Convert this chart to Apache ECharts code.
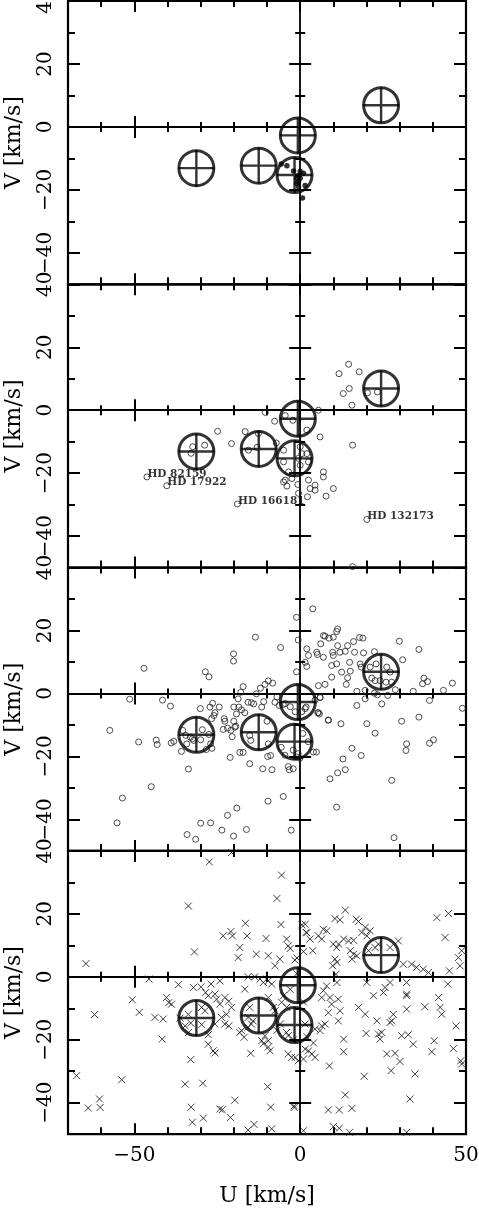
<!DOCTYPE html>
<html>
<head>
<meta charset="utf-8">
<script src="https://cdn.jsdelivr.net/npm/echarts@6/dist/echarts.min.js"></script>
<style>
  html, body { margin: 0; padding: 0; background: #fff; }
  #chart { width: 479px; height: 1213px; }
</style>
</head>
<body>
<div id="chart"></div>
<script>
// axis ranges and tick values
const uRange = [-70, 50];
const vRange = [-50, 40];
const uMajor = [-50, 0, 50];
const vMajor = [-40, -20, 0, 20, 40];

// moving group centres (U, V)
const groupCentres = [[-31.3, -13.1], [-12.5, -12.3], [-0.7, -2.7], [-1.7, -15.3], [24.4, 6.9]];

// panel 1: filled dots
const panel1Stars = [[-5.7, -11.8], [-4, -12.3], [-2, -14], [0, -14.2], [1, -14.7], [-0.7, -15.5], [-1, -16.3],
  [0, -16.3], [-0.5, -17.4], [-1, -17.9], [1.5, -18.6], [-0.5, -19], [0.7, -22.6]];

// panel 2: open circles
const panel2Stars = [[11.7, 11.6], [14.6, 14.6], [17.8, 12.2], [14.8, 6.9], [13, 5.3], [15.6, 1.6], [20.3, 5.5],
  [23.3, 5.8], [15.8, -11.1], [5.5, 0], [6, -8.5], [2, -6.3], [-24.9, -6.7], [-20.7, -10.6], [-16.6, -6.8],
  [-15.6, -12.7], [-12.6, -7.4], [-13, -11.8], [-7.2, -10.4], [-7.7, -3.5], [-10.5, -0.7], [-4.5, -1.7],
  [-2.2, -3.2], [-28.8, -11.1], [-32.4, -11.6], [-32.9, -13.7], [-5, -12.7], [0, -11.6], [0.5, -13.8],
  [-0.5, -15.3], [2, -13.8], [2.5, -16.4], [0, -17.5], [-5, -16.4], [-3.5, -19.6], [-4.5, -22.2], [-5, -22.8],
  [-2.5, -21.7], [-4, -24.1], [2.5, -22.2], [3, -24.9], [4.5, -23.8], [4.5, -25.4], [7, -19.6], [7, -21.2],
  [10, -24.9], [7.8, -27.3], [2.2, -27.5], [-0.5, -26.4], [-0.7, -23.6], [15.8, -49.7]];
const namedStars = [[-46.2, -21.2], [-40.2, -24], [-18.9, -29.8], [20.1, -34.7]];
const namedLabels = ["HD 82159", "HD 17922", "HD 166181", "HD 132173"];

// panel 3: open circles
const panel3Stars = [[-1.1, 24.2], [-0.6, 17], [-13.5, 17.9], [-5.9, 14.6], [-20.1, 12.6], [-20.1, 10.3], [-47.1, 8],
  [-28.6, 6.9], [-27.5, 5.3], [-1.1, 6.9], [-51.4, -1.8], [-41.5, -2.1], [-39.1, -4], [-57.4, -11.7], [-48.7, -15.4],
  [-43.4, -14.8], [-43.1, -16.2], [-38.9, -15.7], [-38.1, -15.2], [-35.8, -18.4], [-33.7, -24], [-44.9, -29.6],
  [-53.6, -33.2], [-55.2, -41.1], [-34.1, -44.8], [-31.5, -46.3], [-30, -41.2], [-27, -41.1], [-23.6, -43.4],
  [-20.1, -45.3], [-21.9, -38.7], [-19.1, -36.4], [-16.2, -43.2], [-9.7, -34.2], [-5.1, -32.7], [-2.7, -43.4],
  [-30.1, -4.8], [-26.4, -3.1], [-27.2, -4.3], [-25.7, -6.1], [-26, -7], [-24.4, -4.3], [-26.7, -8], [-22.9, -8],
  [-22.7, -8.8], [-23.2, -11.4], [-21.9, -11], [-20.9, -11.7], [-20.5, -13.7], [-19.7, -10.7], [-21.1, -20.3],
  [-35.4, -11.7], [-34.5, -13.3], [-34.2, -16], [-33.1, -13.9], [-32.5, -14.4], [-32.1, -14.9], [-30, -14.7],
  [-29.5, -11.5], [-27.5, -13], [-27, -16], [-26.6, -17.4], [-28.3, -17.8], [-17.2, 2.2], [-17.9, 0.4],
  [-18.7, -1.7], [-20, -4.3], [-18.5, -4.3], [-17.7, -5.2], [-16.7, -6.1], [-19.2, -6.5], [-15.7, -2.8],
  [-14.7, -2.9], [-14, -3.3], [-13.2, -0.1], [-12, 1.7], [-10.6, 2.9], [-9.6, 4], [-8.3, 3.3], [-11, -2.6],
  [-11.6, -4.3], [-20, -8.8], [-19.4, -10.4], [-18.2, -18.7], [-17.2, -18.7], [-15.2, -22.3], [-11.3, -23.9],
  [-9.8, -20], [-8.9, -19.7], [-8.5, -24.2], [-3.6, -23.2], [-3.3, -24.2], [-2.1, -23.9], [-7.6, -2.8],
  [-6.3, -3.8], [-5.1, -3.5], [-15.2, -13.3], [-14.9, -14.9], [-10, -8.8], [-9.6, -16], [-7, -1.1], [-4.5, -3.2],
  [-3, -4.2], [-1.5, -5.8], [0.5, -5.8], [1.5, -4.8], [4.5, -2.1], [5.5, -6.1], [5.8, -6.5], [6, -1.3],
  [8.5, -8.5], [4, -18.6], [4.9, -18.6], [-5.7, -17.1], [-4.6, -19.6], [-2.1, -18], [-0.6, -19.1], [-1.1, -20.1],
  [-0.1, -20.6], [0.8, -12.7], [2.4, -15.3], [3.8, 26.9], [11.3, 20.5], [11, 19.7], [7, 18.4], [7.5, 18.2],
  [8.7, 17.6], [10, 17.9], [17.9, 17.8], [18.9, 17.6], [16.1, 16.5], [14.3, 15.2], [11.3, 15.2], [6.2, 15.8],
  [2, 14.2], [2.5, 12.1], [5, 13.1], [5.2, 12.4], [7, 11.5], [9.8, 13.1], [10, 12.1], [12, 13.1], [13.6, 13.4],
  [16.4, 13.1], [19.1, 12.9], [22.4, 13.3], [29.9, 16.6], [35.8, 14], [1.5, 9.9], [2, 8.6], [9.5, 8.9], [11, 9.4],
  [14.9, 9.9], [12.5, 6.8], [15.1, 7.1], [9.5, 5.2], [14.3, 5], [18.1, 9.4], [18.4, 8.4], [5.5, 2.5], [7.5, 2.9],
  [13.9, 2.9], [17.1, 0.7], [19.6, 1], [6, -1.2], [19.6, -1.7], [17.1, -3.8], [24.6, -3.3], [22.4, 0.1],
  [23.3, -0.4], [26.4, -0.6], [30.9, 10.7], [21.1, 8.4], [22.9, 9.4], [26.1, 8.4], [27.1, 6.8], [21.6, 4.9],
  [22.6, 4.1], [24.1, 4.1], [25.9, 3.6], [27.6, 3.6], [28.7, 1.2], [34.1, 0.7], [37.3, 4.9], [36.9, 3.1],
  [38.4, 3.8], [43.2, 1], [45.9, 3.3], [39, -2.2], [48.9, -4.7], [30.6, -8.8], [35.8, -7.5], [22.6, -12.6],
  [20.1, -9.6], [12.3, -9.6], [8.5, -8.4], [5.3, -6.1], [1.8, -4.3], [32.1, -16], [31.9, -18.1], [39, -15.8],
  [40.2, -14.7], [15.6, -17.4], [18.4, -19.7], [12.9, -20.8], [13.6, -24.2], [11.3, -25.2], [9, -27.1],
  [27.6, -27.6], [11, -36.1], [28.3, -45.8]];

// panel 4: crosses
const panel4Stars = [[-27.4, 36.5], [-20.7, 39.5], [-5.6, 32.3], [-7, 24.9], [-33.7, 22.5], [-5.8, 16.6], [-16.5, 17],
  [-23.2, 13], [-20.9, 14.4], [-20.4, 13], [-16, 13], [-18.2, 9.3], [-18.7, 6.1], [-31.9, 7.9], [-64.6, 4.2],
  [-10.3, 12.2], [-4.1, 12], [-3.6, 9.8], [-13.2, 7.2], [-9.6, 6.7], [-6.1, 5.6], [-7.6, 3.5], [-1.6, 5.3],
  [-45.6, -0.7], [-36.7, -2.5], [-50.6, -7.3], [-48.5, -11.3], [-62, -12], [-40.3, -6.6], [-39.6, -8.2],
  [-38.8, -8.7], [-43.8, -12.9], [-41.3, -13.4], [-41.6, -19.8], [-32.2, -3.4], [-29.9, -3.2], [-26.9, -2.3],
  [-24.2, -1.3], [-28.5, -5], [-27.7, -6], [-25.7, -5.5], [-25.2, -7.1], [-24.2, -8.7], [-22.7, -6.6],
  [-21.5, -7.8], [-20.7, -9.7], [-22.2, -11.9], [-23.7, -12.9], [-22.7, -15], [-21.5, -15.6], [-25.7, -15],
  [-28.7, -10.8], [-29.7, -15.2], [-27.7, -18.4], [-27.7, -21.4], [-26.2, -23.5], [-25.7, -24.2], [-29.7, -9.7],
  [-33.7, -11.9], [-36.2, -13.1], [-34.7, -15.6], [-33, -14.7], [-33.7, -17.7], [-33, -26.3], [-34.7, -34.1],
  [-29.4, -33.8], [-53.8, -32.7], [-67.4, -31.4], [-63.9, -41.7], [-60.5, -38.8], [-60.3, -41.5], [-32.9, -41.4],
  [-32.5, -46.2], [-29.2, -44.9], [-24.2, -42], [-23.5, -42.2], [-21, -44.7], [-19.7, -39.2], [-15.7, -48.7],
  [-13.9, -46.9], [-9.8, -34.9], [-8.9, -41.4], [-8.6, -48.3], [-1.8, -41], [-14.9, -24.3], [-17.7, -17.1],
  [-16.9, -19.2], [-18.2, -17.7], [-15.7, -16], [-11.6, -20.3], [-11.1, -21.3], [-9.6, -22.3], [-9.1, -23.5],
  [-10.6, -18.7], [-9.6, -20.3], [-16.7, -3.9], [-15.7, 0], [-13.7, 0], [-12.1, -0.7], [-11.1, -1.8],
  [-9.6, -1.3], [-8.6, -2.3], [-15.2, -9.7], [-15.7, -12.9], [-14.2, -14], [-14.7, -15], [-9.6, -6.6],
  [-8.1, -9.7], [-7.6, -10.8], [-5.6, -8.1], [-4.1, -9.7], [-3.6, -24.5], [-2.6, -25.6], [-0.6, -26.7],
  [-4.1, -17.7], [-3.6, -18.7], [13.6, 21.2], [10.5, 18.5], [12, 18.1], [16.9, 18.3], [17.6, 17.6], [1.5, 16.7],
  [1.8, 14.1], [7, 15.1], [8, 14.6], [5.5, 13], [6.5, 12], [19.6, 15.7], [21.1, 14.6], [18.6, 14.1], [20.1, 13],
  [13.1, 12], [14.6, 11.4], [16.1, 11.6], [10, 10.4], [11, 9.3], [11.6, 10.4], [3.8, 8.3], [15.1, 8.3],
  [16.1, 7.2], [17.1, 6.7], [15.6, 5.6], [20.6, 8.3], [22.6, 9.3], [23.6, 10.4], [27.1, 9.3], [29.6, 11.4],
  [10.5, 5.6], [11.1, 4.6], [9.8, 3.5], [31.1, 4], [33.6, 4], [35.1, 3], [37.1, 2.4], [38.7, 1.4], [41.2, 18.8],
  [44.7, 20.1], [43.7, 12.5], [47.7, 6.1], [48.7, 8.3], [48.2, 3.5], [45, 1.9], [44.5, -2.3], [10.8, 0.8],
  [11.1, -1.8], [20.1, -1.8], [27.1, -1.8], [25.6, -3.4], [25.1, -5], [22.1, -6], [32.1, -1.8], [32.1, -5.5],
  [32.1, -6], [8, -2.9], [7, -4.4], [6.5, -6.6], [9, -6.6], [11.5, -7.1], [9.5, -8.7], [12, -10.8], [8.5, -11.4],
  [11.5, -14], [17.6, -9.7], [19.6, -11.9], [23.1, -14], [27.1, -14.5], [28.1, -11.9], [27.6, -14], [32.1, -10.3],
  [37.6, -9.5], [41.7, -6.6], [42.2, -9.7], [42.7, -11.9], [47, -15.6], [19.9, -18], [23.6, -18.2], [24.1, -19.8],
  [24.6, -17.7], [30.6, -18.7], [32.6, -18.4], [34.1, -21.4], [40.4, -20.3], [39.7, -23.8], [46.2, -22.8],
  [48.4, -26.7], [48.7, -27.7], [13.1, -19.8], [13.1, -23.8], [26.1, -24.5], [28.6, -24.3], [30.1, -26.9],
  [27.4, -29.8], [19.3, -31.6], [34.6, -30.9], [8.8, -28.3], [13.6, -37.5], [33.1, -38.8], [8.5, -42.3],
  [11.8, -42.3], [15.6, -41.8], [10, -47.6], [11.8, -48.1], [14.9, -49.4], [32.1, -49.4], [1, -48.9], [1.5, -15],
  [4.5, -16.6], [6, -17.1], [6.5, -15.6], [7.5, -15], [1.5, -23], [2.5, -23.5], [3.5, -24.5], [4.5, -25.6],
  [1, -26.1], [-1.5, -25.6], [-1.8, -41.5], [0.5, 16.5], [2, 14], [3, 12], [1, 8], [-1, 6], [-3, 9], [-1, 1],
  [-3, -4], [1, -8], [-5, -6], [-6, -15], [-7, -17], [-2, -20], [2, -19], [4, -21]];

const FONT = "DejaVu Serif, serif";
const PANELS = 4;
const AXES_PER_GRID = 8;
const GRID_LEFT = 68;
const GRID_WIDTH = 398;
const GRID_TOP = 1;
const GRID_STEP = 283.3;

const crossPath = "path://M0,10L20,10M10,0L10,20";
const xPath = "path://M0,0L10,10M10,0L0,10";

function minusSign(v) {
  return String(v).replace("-", "\u2212");
}

// one value axis that only draws ticks (and maybe line / labels)
function tickAxis(dim, gridIndex, position, opts) {
  const isX = dim === "x";
  const tick = {
    show: true,
    inside: !!opts.inside,
    length: opts.length,
    lineStyle: { color: "#000", width: opts.width || 2 },
  };
  if (opts.major) tick.customValues = isX ? uMajor : vMajor;
  const zeroIndex = gridIndex * AXES_PER_GRID;
  return Object.assign({
    type: "value",
    gridIndex,
    position,
    min: isX ? uRange[0] : vRange[0],
    max: isX ? uRange[1] : vRange[1],
    interval: 10,
    axisLine: opts.zero
      ? { show: !!opts.line, onZero: true, onZeroAxisIndex: zeroIndex, lineStyle: { color: "#000", width: 1.8 } }
      : { show: false, onZero: false },
    axisTick: tick,
    axisLabel: { show: false },
    splitLine: { show: false },
  }, opts.extra || {});
}

const grids = [];
const xAxes = [];
const yAxes = [];
const series = [];

for (let g = 0; g < PANELS; g++) {
  grids.push({
    left: GRID_LEFT,
    width: GRID_WIDTH,
    top: GRID_TOP + g * GRID_STEP,
    height: GRID_STEP,
    show: true,
    borderColor: "#000",
    borderWidth: 2.2,
    containLabel: false,
    outerBoundsMode: "none",
  });

  const last = g === PANELS - 1;
  const xMain = {
    axisLabel: {
      show: last,
      customValues: uMajor,
      formatter: minusSign,
      margin: 12,
      color: "#000",
      fontFamily: FONT,
      fontSize: 20,
    },
  };
  if (last) {
    Object.assign(xMain, {
      name: "U [km/s]",
      nameLocation: "middle",
      nameGap: 51,
      nameTextStyle: { color: "#000", fontFamily: FONT, fontSize: 22 },
    });
  }
  xAxes.push(
    tickAxis("x", g, "bottom", { inside: true, length: 7, extra: xMain }),
    tickAxis("x", g, "bottom", { inside: true, length: 11, major: true }),
    tickAxis("x", g, "top", { inside: true, length: 6 }),
    tickAxis("x", g, "top", { inside: true, length: 11, major: true }),
    tickAxis("x", g, "bottom", { zero: true, line: true, length: 5 }),
    tickAxis("x", g, "bottom", { zero: true, length: 11, major: true }),
    tickAxis("x", g, "top", { zero: true, length: 5 }),
    tickAxis("x", g, "top", { zero: true, length: 11, major: true })
  );

  const yMain = {
    name: "V [km/s]",
    nameLocation: "middle",
    nameGap: 43,
    nameTextStyle: { color: "#000", fontFamily: FONT, fontSize: 22 },
    axisLabel: {
      show: true,
      customValues: vMajor,
      formatter: minusSign,
      rotate: 90,
      margin: 12,
      color: "#000",
      fontFamily: FONT,
      fontSize: 20,
    },
  };
  yAxes.push(
    tickAxis("y", g, "left", { inside: true, length: 7, extra: yMain }),
    tickAxis("y", g, "left", { inside: true, length: 12, major: true }),
    tickAxis("y", g, "right", { inside: true, length: 7 }),
    tickAxis("y", g, "right", { inside: true, length: 12, major: true }),
    tickAxis("y", g, "left", { zero: true, line: true, length: 5 }),
    tickAxis("y", g, "left", { zero: true, length: 11, major: true }),
    tickAxis("y", g, "right", { zero: true, length: 5 }),
    tickAxis("y", g, "right", { zero: true, length: 11, major: true })
  );

  const axisIdx = { xAxisIndex: g * AXES_PER_GRID, yAxisIndex: g * AXES_PER_GRID };

  if (g === 0) {
    series.push(Object.assign({
      type: "scatter",
      data: panel1Stars,
      symbol: "circle",
      symbolSize: 5.5,
      itemStyle: { color: "#000" },
      silent: true,
      z: 2,
    }, axisIdx));
  } else if (g === 1 || g === 2) {
    const stars = g === 1 ? panel2Stars : panel3Stars;
    series.push(Object.assign({
      type: "scatter",
      data: stars,
      symbol: "circle",
      symbolSize: 6,
      itemStyle: { color: "rgba(0,0,0,0)", borderColor: "#222", borderWidth: 1 },
      silent: true,
      z: 2,
    }, axisIdx));
    if (g === 1) {
      series.push(Object.assign({
        type: "scatter",
        data: namedStars.map((p, i) => ({ value: p, name: namedLabels[i] })),
        symbol: "circle",
        symbolSize: 6,
        itemStyle: { color: "rgba(0,0,0,0)", borderColor: "#222", borderWidth: 1 },
        label: {
          show: true,
          position: "right",
          distance: 0,
          offset: [-3, -3],
          formatter: (p) => p.name,
          color: "#000",
          fontFamily: FONT,
          fontWeight: "bold",
          fontSize: 10.5,
        },
        silent: true,
        z: 5,
      }, axisIdx));
    }
  } else {
    series.push(Object.assign({
      type: "scatter",
      data: panel4Stars,
      symbol: xPath,
      symbolSize: 7,
      itemStyle: { color: "rgba(0,0,0,0)", borderColor: "#111", borderWidth: 1 },
      silent: true,
      z: 2,
    }, axisIdx));
  }

  series.push(Object.assign({
    type: "scatter",
    data: groupCentres,
    symbol: "circle",
    symbolSize: 35,
    itemStyle: { color: "rgba(0,0,0,0)", borderColor: "#000", borderWidth: 3 },
    silent: true,
    z: 4,
  }, axisIdx));
  series.push(Object.assign({
    type: "scatter",
    data: groupCentres,
    symbol: crossPath,
    symbolSize: 36,
    itemStyle: { color: "rgba(0,0,0,0)", borderColor: "#000", borderWidth: 2.4 },
    silent: true,
    z: 4,
  }, axisIdx));
}

const chart = echarts.init(document.getElementById("chart"), null, { renderer: "canvas" });
chart.setOption({
  animation: false,
  backgroundColor: "#fff",
  tooltip: { show: false },
  grid: grids,
  xAxis: xAxes,
  yAxis: yAxes,
  series,
});
</script>
</body>
</html>
